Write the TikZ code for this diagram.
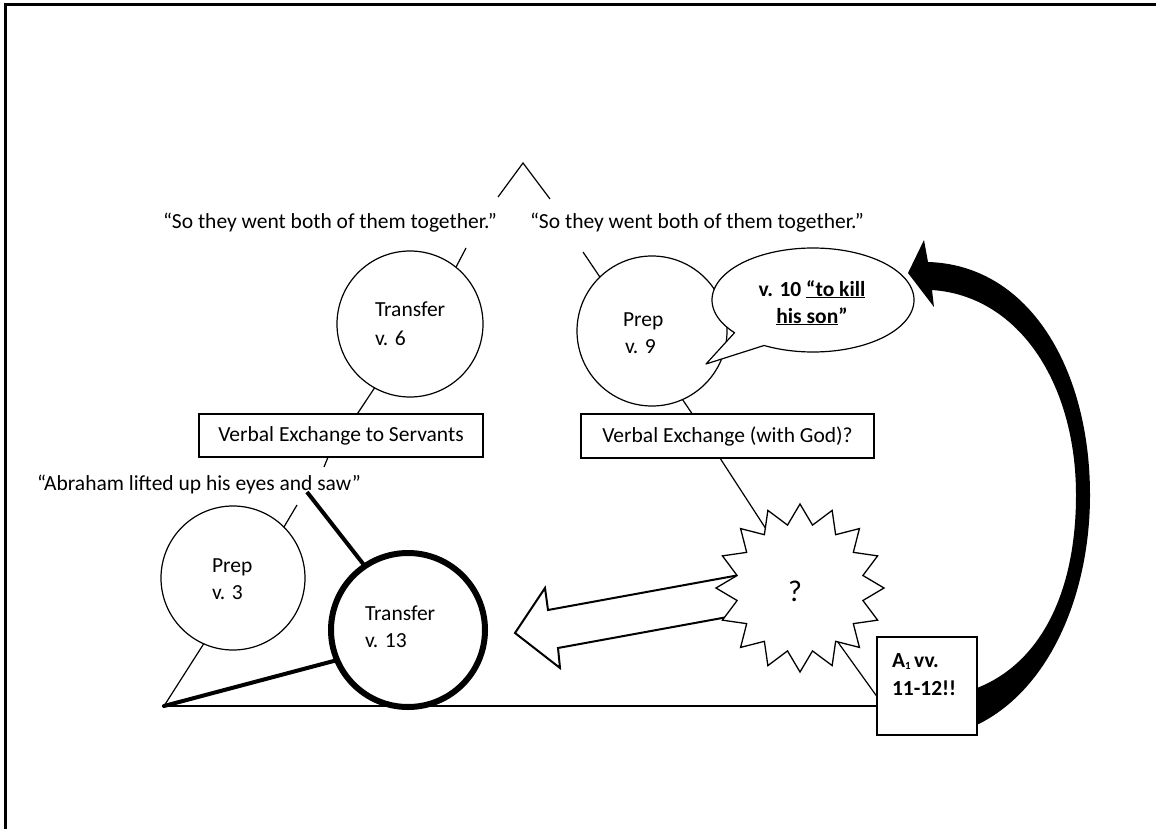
\documentclass[tikz,border=0pt]{standalone}
\usepackage{fontspec}
\setmainfont{Carlito}
\usetikzlibrary{shapes.geometric,calc}
\begin{document}
\begin{tikzpicture}[x=1pt,y=-1pt,
  every node/.style={inner sep=0pt,outer sep=0pt},
  txt/.style={font=\fontsize{21.5}{26}\selectfont,anchor=base west},
  boldtxt/.style={font=\fontsize{21.5}{26}\selectfont\bfseries},
  ring/.style={circle,draw,fill=white,line width=1.2pt},
  heavyring/.style={circle,draw,fill=white,line width=6pt},
  tag/.style={rectangle,draw,fill=white,line width=1.2pt,font=\fontsize{21.5}{26}\selectfont},
  link/.style={line width=1.2pt},
  heavylink/.style={line width=4pt},
]
% canvas and page edges
\fill[white] (0,0) rectangle (1156,829);
\useasboundingbox (0,0) rectangle (1156,829);
\draw[line width=3pt] (5,829) -- (5,5) -- (1156,5);

% caret at the top
\coordinate (capL) at (498,197);
\coordinate (capT) at (523,163);
\coordinate (capR) at (550,199);
\draw[link] (capL) -- (capT) -- (capR);

% quotations
\node[txt] (q1) at (163,229) {“So they went both of them together.”};
\node[txt] (q2) at (530,229) {“So they went both of them together.”};
\node[txt] (q3) at (37,490) {“Abraham lifted up his eyes and saw”};

% scenes
\node[ring,minimum size=146pt] (c6) at (410,324) {};
\node[ring,minimum size=150pt] (c9) at (652,331) {};
\node[ring,minimum size=144pt] (c3) at (233,578) {};
\node[heavyring,minimum size=154pt] (c13) at (408,630) {};

\node[txt] (c6a) at (375,316) {Transfer};
\node[txt] (c6b) at (375,345) {v. 6};
\node[txt] (c9a) at (623,326) {Prep};
\node[txt] (c9b) at (625,353) {v. 9};
\node[txt] (c3a) at (212,572) {Prep};
\node[txt] (c3b) at (212,599) {v. 3};
\node[txt] (c13a) at (365,620) {Transfer};
\node[txt] (c13b) at (365,647) {v. 13};

% exchanges
\node[tag,minimum width=284pt,minimum height=43pt] (b1) at (341,435.5) {Verbal Exchange to Servants};
\node[tag,minimum width=293pt,minimum height=44pt] (b2) at (727.5,436) {Verbal Exchange (with God)?};

% free ends of the short ticks
\coordinate (t6) at (466,248);
\coordinate (t9) at (583,252);
\coordinate (t3) at (297,505);
\coordinate (tb1) at (324,467);
\coordinate (saw) at (307,492);
\coordinate (corner) at (164,706);

\draw[link] (c6.51.7) -- (t6);
\draw[link] (c6.-119.3) -- (b1.53);
\draw[link] (b1.-121) -- (tb1);
\draw[link] (c9.134) -- (t9);
\draw[link] (c9.-66.5) -- (b2.148);
\draw[link] (c3.45.5) -- (t3);
\draw[link] (c3.246) -- (corner);
\draw[heavylink] (saw) -- (c13.124);
\draw[heavylink,line cap=round] (c13.203.7) -- (corner);

% speech bubble
\draw[fill=white,line width=1.2pt,line join=round]
  plot[domain=141:479,samples=150] ({813+101*cos(\x)},{300+52*sin(\x)})
  -- (706,364) -- cycle;
\node[boldtxt,anchor=base] (bub1) at (812,296) {v. 10 \underline{“to kill}};
\node[boldtxt,anchor=base] (bub2) at (812,323) {\underline{his son}”};

% hollow block arrow pointing back
\coordinate (ha) at (745,574);
\coordinate (hb) at (548,610);
\coordinate (hc) at (545,588);
\coordinate (hd) at (515,633);
\coordinate (he) at (560,668);
\coordinate (hf) at (558,648);
\coordinate (hg) at (755,612);
\draw[fill=white,line width=2pt,line join=miter]
  (ha) -- (hb) -- (hc) -- (hd) -- (he) -- (hf) -- (hg) -- cycle;

% burst
\node[star,star points=16,star point ratio=1.31,minimum size=168pt,
      draw,fill=white,line width=1.3pt] (st) at (800,588) {};
\node[font=\fontsize{30}{34}\selectfont,anchor=base] (qm) at (795,601) {?};
\draw[link] (b2.-109) -- (st.120);

% large curved arrow
\fill[black]
  (928,262) .. controls (1030,265) and (1090,370) .. (1090,495)
  .. controls (1090,600) and (1045,700) .. (965,730)
  -- (965,692)
  .. controls (1035,672) and (1076,600) .. (1076,495)
  .. controls (1076,385) and (1020,296) .. (932,290)
  -- (934,307) -- (908,273) -- (924,240) -- cycle;

% climax box
\node[tag,minimum width=100pt,minimum height=98pt] (a1) at (927,686) {};
\node[boldtxt,anchor=base west] (a1a) at (892,667)
  {A\raisebox{-0.12em}{\fontsize{11}{11}\selectfont 1}\,vv.};
\node[boldtxt,anchor=base west] (a1b) at (892,695) {11-12!!};

\draw[link] (st.-55) -- (a1.192);
\draw[link] (corner) -- (corner -| a1.west);
\end{tikzpicture}
\end{document}
